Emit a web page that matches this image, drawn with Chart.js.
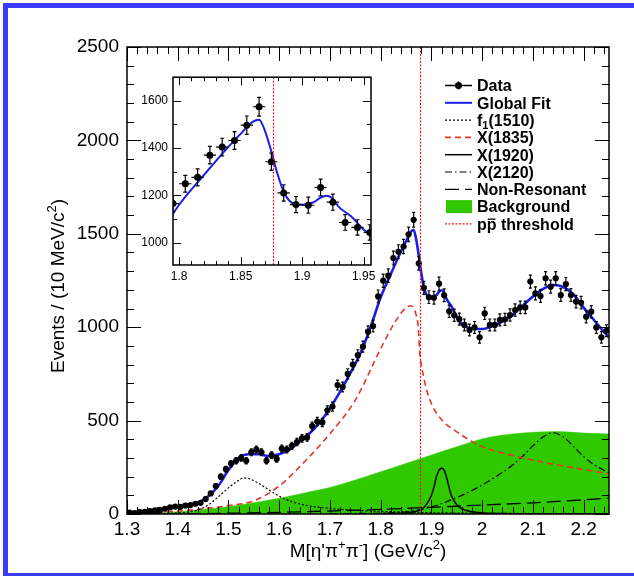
<!DOCTYPE html>
<html>
<head>
<meta charset="utf-8">
<script src="https://cdn.jsdelivr.net/npm/chart.js@4.4.1/dist/chart.umd.min.js"></script>
<style>
  body { margin: 0; background: #fff; }
  #wrap { position: relative; width: 634px; height: 576px; overflow: hidden; }
  #mainChart { position: absolute; left: 0; top: 0; }
  #insetChart { position: absolute; left: 130px; top: 65px; }
</style>
</head>
<body>
<div id="wrap">
  <canvas id="mainChart" width="634" height="576"></canvas>
  <canvas id="insetChart" width="250" height="225"></canvas>
</div>
<script>
const FONT = '"Liberation Sans", Arial, Helvetica, sans-serif';

// data: 10 MeV bins
const dataMass = [
  1.305, 1.315, 1.325, 1.335, 1.345, 1.355, 1.365, 1.375, 1.385, 1.395,
  1.405, 1.415, 1.425, 1.435, 1.445, 1.455, 1.465, 1.475, 1.485, 1.495,
  1.505, 1.515, 1.525, 1.535, 1.545, 1.555, 1.565, 1.575, 1.585, 1.595,
  1.605, 1.615, 1.625, 1.635, 1.645, 1.655, 1.665, 1.675, 1.685, 1.695,
  1.705, 1.715, 1.725, 1.735, 1.745, 1.755, 1.765, 1.775, 1.785, 1.795,
  1.805, 1.815, 1.825, 1.835, 1.845, 1.855, 1.865, 1.875, 1.885, 1.895,
  1.905, 1.915, 1.925, 1.935, 1.945, 1.955, 1.965, 1.975, 1.985, 1.995,
  2.005, 2.015, 2.025, 2.035, 2.045, 2.055, 2.065, 2.075, 2.085, 2.095,
  2.105, 2.115, 2.125, 2.135, 2.145, 2.155, 2.165, 2.175, 2.185, 2.195,
  2.205, 2.215, 2.225, 2.235, 2.245
];
const dataCounts = [
  8, 5, 10, 12, 15, 20, 22, 28, 35, 40,
  38, 45, 48, 55, 60, 80, 110, 150, 200, 240,
  270, 285, 300, 285, 330, 345, 330, 285, 315, 295,
  350, 345, 365, 385, 405, 410, 470, 495, 490, 555,
  575, 690, 680, 750, 800, 850, 896, 976, 1006, 1165,
  1249, 1276, 1370, 1404, 1432, 1497, 1575, 1342, 1210, 1161,
  1158, 1233, 1171, 1085, 1064, 1043, 1012, 985, 999, 946,
  1074, 1012, 1012, 1039, 1042, 1065, 1092, 1106, 1106, 1244,
  1181, 1167, 1262, 1217, 1262, 1172, 1231, 1172, 1137, 1131,
  1056, 1083, 999, 946, 981
];
const binHalfWidth = 0.005;

// fit components
const fitMass = [1.30, 1.32, 1.34, 1.36, 1.38, 1.40, 1.42, 1.44, 1.46, 1.48,
  1.50, 1.52, 1.54, 1.56, 1.58, 1.60, 1.62, 1.64, 1.66, 1.68,
  1.70, 1.72, 1.74, 1.76, 1.78, 1.80, 1.82, 1.84, 1.85, 1.86,
  1.865, 1.87, 1.875, 1.88, 1.885, 1.89, 1.895, 1.90, 1.905, 1.91,
  1.915, 1.92, 1.925, 1.93, 1.94, 1.95, 1.96, 1.98, 2.00, 2.02,
  2.04, 2.06, 2.08, 2.10, 2.12, 2.14, 2.16, 2.18, 2.20, 2.22,
  2.24, 2.25];
const fitVals = [5, 10, 15, 20, 28, 40, 48, 60, 95, 150,
  235, 300, 320, 320, 310, 320, 345, 387, 432, 490,
  566, 655, 753, 860, 1000, 1160, 1285, 1405, 1460, 1512,
  1520, 1470, 1385, 1290, 1215, 1175, 1162, 1160, 1163, 1172,
  1190, 1198, 1185, 1150, 1110, 1055, 1015, 993, 990, 1005,
  1030, 1065, 1115, 1165, 1205, 1226, 1215, 1175, 1105, 1040,
  975, 945];

const f1Mass = [1.30, 1.35, 1.40, 1.42, 1.44, 1.46, 1.48, 1.50, 1.52, 1.53, 1.54, 1.56, 1.58, 1.60, 1.62, 1.65, 1.70, 1.75, 1.80, 1.90, 2.00, 2.25];
const f1Vals = [0, 2, 5, 10, 22, 48, 92, 140, 180, 193, 190, 164, 128, 96, 71, 48, 30, 20, 14, 7, 4, 1];

const x1835Mass = [1.30, 1.35, 1.40, 1.45, 1.50, 1.55, 1.60, 1.65, 1.70, 1.75, 1.80, 1.83, 1.85, 1.86, 1.865, 1.87, 1.874, 1.877, 1.88, 1.885, 1.89, 1.90, 1.92, 1.95, 2.00, 2.05, 2.10, 2.15, 2.20, 2.25];
const x1835Vals = [2, 6, 15, 28, 45, 70, 150, 280, 430, 610, 885, 1035, 1105, 1115, 1100, 1065, 1000, 860, 800, 730, 670, 590, 505, 440, 360, 320, 288, 262, 238, 215];

const x1920Mass = [1.80, 1.85, 1.87, 1.88, 1.89, 1.90, 1.905, 1.91, 1.915, 1.92, 1.925, 1.93, 1.935, 1.94, 1.95, 1.96, 1.98, 2.00, 2.05, 2.25];
const x1920Vals = [2, 5, 15, 25, 50, 100, 145, 200, 235, 245, 235, 195, 140, 95, 50, 28, 12, 6, 2, 0];

const x2120Mass = [1.70, 1.80, 1.85, 1.90, 1.95, 2.00, 2.03, 2.06, 2.08, 2.10, 2.12, 2.14, 2.16, 2.18, 2.20, 2.22, 2.25];
const x2120Vals = [2, 5, 12, 38, 88, 155, 205, 262, 310, 365, 412, 435, 412, 362, 307, 265, 220];

const nonResMass = [1.30, 1.40, 1.50, 1.60, 1.70, 1.80, 1.90, 2.00, 2.10, 2.20, 2.25];
const nonResVals = [0, 1, 4, 9, 16, 25, 36, 48, 60, 76, 85];

const bkgMass = [1.30, 1.35, 1.40, 1.45, 1.50, 1.55, 1.60, 1.65, 1.70, 1.75, 1.80, 1.85, 1.90, 1.95, 2.00, 2.05, 2.10, 2.15, 2.20, 2.25];
const bkgVals = [2, 5, 12, 24, 39, 60, 84, 113, 142, 182, 226, 271, 316, 360, 402, 425, 437, 441, 433, 428];

const ppThreshold = 1.8766;

// ticks
const xTicks = [1.3, 1.4, 1.5, 1.6, 1.7, 1.8, 1.9, 2.0, 2.1, 2.2];
const xTickLabels = ['1.3', '1.4', '1.5', '1.6', '1.7', '1.8', '1.9', '2', '2.1', '2.2'];
const yTicks = [0, 500, 1000, 1500, 2000, 2500];
const yTickLabels = ['0', '500', '1000', '1500', '2000', '2500'];
const insetXTicks = [1.8, 1.85, 1.9, 1.95];
const insetXTickLabels = ['1.8', '1.85', '1.9', '1.95'];
const insetYTicks = [1000, 1200, 1400, 1600];
const insetYTickLabels = ['1000', '1200', '1400', '1600'];

const legendLabels = ['Data', 'Global Fit', 'f_{1}(1510)', 'X(1835)', 'X(1920)', 'X(2120)', 'Non-Resonant', 'Background', 'p~{p} threshold'];
const xTitle = "M[\u03b7'\u03c0^{+}\u03c0^{-}] (GeV/c^{2})";
const yTitle = 'Events / (10 MeV/c^{2})';

const pts = (xs, ys) => xs.map((x, i) => ({ x: x, y: ys[i] }));

// little rich text: _{sub} ^{sup} ~{overline}
function parseRich(s) {
  const parts = [];
  const re = /([_^~])\{([^}]*)\}/g;
  let last = 0, m;
  while ((m = re.exec(s))) {
    if (m.index > last) parts.push({ t: s.slice(last, m.index) });
    parts.push({ t: m[2], k: m[1] });
    last = re.lastIndex;
  }
  if (last < s.length) parts.push({ t: s.slice(last) });
  return parts;
}

function drawRich(ctx, s, x, y, size, weight, align) {
  const parts = parseRich(s);
  const fontOf = p => weight + ' ' + ((p.k === '_' || p.k === '^') ? Math.round(size * 0.68) : size) + 'px ' + FONT;
  let w = 0;
  parts.forEach(p => { ctx.font = fontOf(p); p.w = ctx.measureText(p.t).width; w += p.w; });
  let cx = align === 'center' ? x - w / 2 : (align === 'right' ? x - w : x);
  ctx.textAlign = 'left';
  ctx.textBaseline = 'alphabetic';
  parts.forEach(p => {
    ctx.font = fontOf(p);
    const dy = p.k === '^' ? -size * 0.4 : (p.k === '_' ? size * 0.22 : 0);
    ctx.fillText(p.t, cx, y + dy);
    if (p.k === '~') {
      ctx.lineWidth = Math.max(1, size * 0.08);
      ctx.beginPath();
      ctx.moveTo(cx + 1, y - size * 0.66);
      ctx.lineTo(cx + p.w - 1, y - size * 0.66);
      ctx.stroke();
    }
    cx += p.w;
  });
}

const blueBorder = {
  id: 'blueBorder',
  beforeDraw(chart) {
    const ctx = chart.ctx;
    ctx.save();
    ctx.fillStyle = '#3b3bf7';
    ctx.fillRect(3, 3, 634, 5);
    ctx.fillRect(3, 3, 5, 576);
    ctx.fillRect(3, 573, 634, 4);
    ctx.restore();
  }
};

const whitePad = {
  id: 'whitePad',
  beforeDraw(chart) {
    const { ctx, chartArea: a } = chart;
    ctx.save();
    ctx.fillStyle = '#fff';
    ctx.fillRect(a.left, a.top, a.right - a.left, a.bottom - a.top);
    ctx.restore();
  }
};

const threshold = {
  id: 'threshold',
  afterDatasetsDraw(chart) {
    const { ctx, chartArea: a, scales: { x } } = chart;
    const px = Math.round(x.getPixelForValue(ppThreshold)) + 0.5;
    ctx.save();
    ctx.strokeStyle = '#f01818';
    ctx.lineWidth = 1.2;
    ctx.setLineDash([2, 1.5]);
    ctx.beginPath();
    ctx.moveTo(px, a.top);
    ctx.lineTo(px, a.bottom);
    ctx.stroke();
    ctx.restore();
  }
};

const errorBars = {
  id: 'errorBars',
  afterDatasetsDraw(chart, args, o) {
    const { ctx, chartArea: a, scales: { x, y } } = chart;
    ctx.save();
    ctx.beginPath();
    ctx.rect(a.left, a.top, a.right - a.left, a.bottom - a.top);
    ctx.clip();
    ctx.strokeStyle = '#000';
    ctx.lineWidth = o.lineWidth;
    ctx.beginPath();
    dataMass.forEach((m, i) => {
      const c = dataCounts[i];
      const e = Math.sqrt(c); // poisson error
      const px = x.getPixelForValue(m), py = y.getPixelForValue(c);
      const yt = y.getPixelForValue(c + e), yb = y.getPixelForValue(Math.max(0, c - e));
      ctx.moveTo(x.getPixelForValue(m - binHalfWidth), py);
      ctx.lineTo(x.getPixelForValue(m + binHalfWidth), py);
      ctx.moveTo(px, yt); ctx.lineTo(px, yb);
      ctx.moveTo(px - o.cap, yt); ctx.lineTo(px + o.cap, yt);
      ctx.moveTo(px - o.cap, yb); ctx.lineTo(px + o.cap, yb);
    });
    ctx.stroke();
    ctx.restore();
  }
};

// ROOT style frame, ticks inside on all four sides
const rootFrame = {
  id: 'rootFrame',
  afterDatasetsDraw(chart, args, o) {
    const { ctx, chartArea: a, scales: { x, y } } = chart;
    ctx.save();
    ctx.strokeStyle = '#000';
    ctx.lineWidth = 1;
    ctx.beginPath();
    const tx = (v, len) => {
      const px = Math.round(x.getPixelForValue(v)) + 0.5;
      ctx.moveTo(px, a.bottom); ctx.lineTo(px, a.bottom - len);
      ctx.moveTo(px, a.top); ctx.lineTo(px, a.top + len);
    };
    const ty = (v, len) => {
      const py = Math.round(y.getPixelForValue(v)) + 0.5;
      ctx.moveTo(a.left, py); ctx.lineTo(a.left + len, py);
      ctx.moveTo(a.right, py); ctx.lineTo(a.right - len, py);
    };
    for (let k = Math.ceil(x.min / o.xMinor - 1e-6); k * o.xMinor <= x.max + 1e-9; k++) tx(k * o.xMinor, o.minorLen);
    for (let k = Math.ceil(y.min / o.yMinor - 1e-6); k * o.yMinor <= y.max + 1e-9; k++) ty(k * o.yMinor, o.minorLen);
    o.xMajor.forEach(v => tx(v, o.majorLen));
    o.yMajor.forEach(v => ty(v, o.majorLen));
    ctx.stroke();
    ctx.lineWidth = o.lineWidth;
    ctx.strokeRect(a.left, a.top, a.right - a.left, a.bottom - a.top);
    ctx.restore();
  }
};

const legendBox = {
  id: 'legendBox',
  afterDraw(chart) {
    const ctx = chart.ctx;
    const ds = chart.data.datasets;
    const x0 = 445, x1 = 472, textX = 477, y0 = 85.5, dy = 17.3;
    legendLabels.forEach((lab, i) => {
      const yy = y0 + i * dy;
      ctx.save();
      if (i === 0) {
        ctx.strokeStyle = '#000'; ctx.lineWidth = 1.3;
        ctx.beginPath();
        ctx.moveTo(x0, yy); ctx.lineTo(x1, yy);
        ctx.moveTo(458.5, yy - 4); ctx.lineTo(458.5, yy + 4);
        ctx.stroke();
        ctx.fillStyle = '#000';
        ctx.beginPath(); ctx.arc(458.5, yy, 3.5, 0, Math.PI * 2); ctx.fill();
      } else if (i === 7) {
        ctx.fillStyle = ds[7].backgroundColor;
        ctx.fillRect(446, yy - 6.5, 26, 13);
      } else if (i === 8) {
        ctx.strokeStyle = '#f01818'; ctx.lineWidth = 1.2;
        ctx.setLineDash([2, 1.5]);
        ctx.beginPath(); ctx.moveTo(x0, yy); ctx.lineTo(x1, yy); ctx.stroke();
      } else {
        ctx.strokeStyle = ds[i].borderColor;
        ctx.lineWidth = Math.min(ds[i].borderWidth, 2);
        ctx.setLineDash(ds[i].borderDash || []);
        ctx.beginPath(); ctx.moveTo(x0, yy); ctx.lineTo(x1, yy); ctx.stroke();
      }
      ctx.restore();
      ctx.save();
      ctx.fillStyle = '#000'; ctx.strokeStyle = '#000';
      drawRich(ctx, lab, textX, yy + 5.8, 16, 'bold', 'left');
      ctx.restore();
    });
  }
};

const axisTitles = {
  id: 'axisTitles',
  afterDraw(chart) {
    const ctx = chart.ctx;
    ctx.save();
    ctx.fillStyle = '#000';
    drawRich(ctx, xTitle, 368, 557, 19, 'normal', 'center');
    ctx.translate(57, 286);
    ctx.rotate(-Math.PI / 2);
    drawRich(ctx, yTitle, 0, 7, 19, 'normal', 'center');
    ctx.restore();
  }
};

const lineDs = (label, xs, ys, color, width, dash, order) => ({
  label: label,
  data: pts(xs, ys),
  borderColor: color,
  borderWidth: width,
  borderDash: dash,
  pointRadius: 0,
  fill: false,
  cubicInterpolationMode: 'monotone',
  order: order
});

const dataDs = (radius) => ({
  label: 'Data',
  data: pts(dataMass, dataCounts),
  showLine: false,
  pointRadius: radius,
  pointBackgroundColor: '#000',
  pointBorderColor: '#000',
  pointBorderWidth: 0,
  order: 0
});

const tickFont = size => ({ family: FONT, size: size });

new Chart(document.getElementById('mainChart'), {
  type: 'line',
  data: {
    datasets: [
      dataDs(3.1),
      lineDs('Global Fit', fitMass, fitVals, '#1c1ce8', 2.6, [], 1),
      lineDs('f1(1510)', f1Mass, f1Vals, '#000', 1.2, [2, 2], 2),
      lineDs('X(1835)', x1835Mass, x1835Vals, '#e2362c', 1.6, [6, 4], 3),
      lineDs('X(1920)', x1920Mass, x1920Vals, '#000', 1.5, [], 4),
      lineDs('X(2120)', x2120Mass, x2120Vals, '#000', 1.2, [7, 3, 1.5, 3], 5),
      lineDs('Non-Resonant', nonResMass, nonResVals, '#000', 1.3, [14, 6], 6),
      {
        label: 'Background',
        data: pts(bkgMass, bkgVals),
        borderColor: '#30c900',
        borderWidth: 0.5,
        backgroundColor: '#30c900',
        fill: 'origin',
        pointRadius: 0,
        cubicInterpolationMode: 'monotone',
        order: 10
      }
    ]
  },
  options: {
    responsive: false,
    animation: false,
    devicePixelRatio: 1,
    events: [],
    layout: { padding: { left: 0, top: 47, right: 25, bottom: 0 } },
    plugins: {
      legend: { display: false },
      tooltip: { enabled: false },
      errorBars: { lineWidth: 1.2, cap: 1.5 },
      rootFrame: { xMinor: 0.02, yMinor: 100, xMajor: xTicks, yMajor: yTicks, majorLen: 14, minorLen: 7, lineWidth: 1.5 }
    },
    scales: {
      x: {
        type: 'linear', min: 1.3, max: 2.25,
        afterBuildTicks: s => { s.ticks = xTicks.map(v => ({ value: v })); },
        afterFit: s => { s.height = 62; },
        grid: { display: false, drawTicks: false },
        border: { display: false },
        ticks: { autoSkip: false, maxRotation: 0, padding: 4, color: '#000', font: tickFont(19), callback: (v, i) => xTickLabels[i] }
      },
      y: {
        type: 'linear', min: 0, max: 2500,
        afterBuildTicks: s => { s.ticks = yTicks.map(v => ({ value: v })); },
        afterFit: s => { s.width = 127; },
        grid: { display: false, drawTicks: false },
        border: { display: false },
        ticks: { autoSkip: false, padding: 8, color: '#000', font: tickFont(19), callback: (v, i) => yTickLabels[i] }
      }
    }
  },
  plugins: [blueBorder, threshold, errorBars, rootFrame, legendBox, axisTitles]
});

new Chart(document.getElementById('insetChart'), {
  type: 'line',
  data: {
    datasets: [
      dataDs(3.5),
      lineDs('Global Fit', fitMass, fitVals, '#1c1ce8', 2, [], 1)
    ]
  },
  options: {
    responsive: false,
    animation: false,
    devicePixelRatio: 1,
    events: [],
    layout: { padding: { left: 0, top: 10, right: 9, bottom: 0 } },
    plugins: {
      legend: { display: false },
      tooltip: { enabled: false },
      errorBars: { lineWidth: 1.2, cap: 2 },
      rootFrame: { xMinor: 0.01, yMinor: 100, xMajor: insetXTicks, yMajor: insetYTicks, majorLen: 8, minorLen: 4, lineWidth: 1.5 }
    },
    scales: {
      x: {
        type: 'linear', min: 1.795, max: 1.956,
        afterBuildTicks: s => { s.ticks = insetXTicks.map(v => ({ value: v })); },
        afterFit: s => { s.height = 25; },
        grid: { display: false, drawTicks: false },
        border: { display: false },
        ticks: { autoSkip: false, maxRotation: 0, padding: 4, color: '#000', font: tickFont(12), callback: (v, i) => insetXTickLabels[i] }
      },
      y: {
        type: 'linear', min: 905, max: 1700,
        afterBuildTicks: s => { s.ticks = insetYTicks.map(v => ({ value: v })); },
        afterFit: s => { s.width = 43; },
        grid: { display: false, drawTicks: false },
        border: { display: false },
        ticks: { autoSkip: false, padding: 5, color: '#000', font: tickFont(12), callback: (v, i) => insetYTickLabels[i] }
      }
    }
  },
  plugins: [whitePad, threshold, errorBars, rootFrame]
});
</script>
</body>
</html>
